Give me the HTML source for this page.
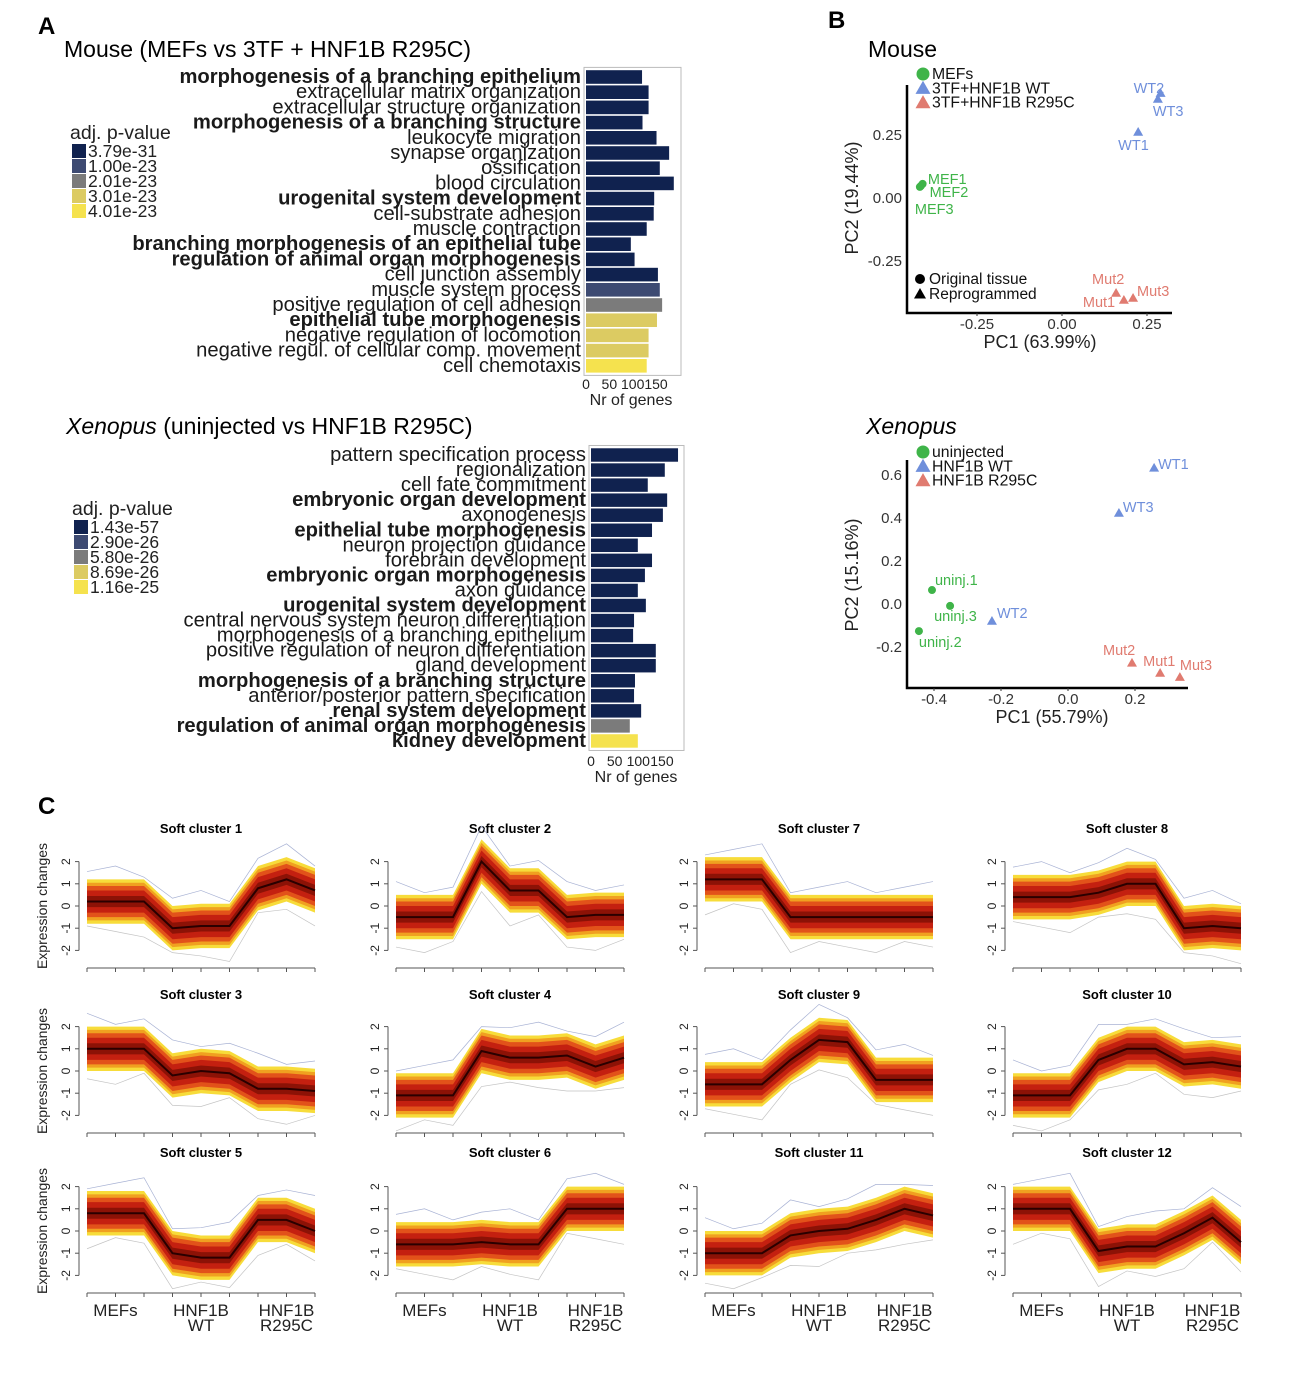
<!DOCTYPE html>
<html><head><meta charset="utf-8">
<style>
html,body{margin:0;padding:0;background:#fff;}
svg{display:block;font-family:"Liberation Sans",sans-serif;}
.nar{font-family:"Liberation Sans Narrow","Liberation Sans",sans-serif;}
</style></head>
<body>
<svg id="fig" width="1304" height="1388" viewBox="0 0 1304 1388" xmlns="http://www.w3.org/2000/svg">
<rect width="1304" height="1388" fill="#fff"/>
<text x="38" y="34" font-size="24" font-weight="bold">A</text>
<text x="828" y="28" font-size="24" font-weight="bold">B</text>
<text x="38" y="814" font-size="24" font-weight="bold">C</text>
<text x="64" y="57" font-size="23">Mouse (MEFs vs 3TF + HNF1B R295C)</text>
<text x="66" y="434" font-size="23"><tspan font-style="italic">Xenopus</tspan> (uninjected vs HNF1B R295C)</text>
<g id="barA"></g><g id="barX"></g><g id="pcaM"></g><g id="pcaX"></g><g id="clusters"></g>
</svg>
<script>
// ---------- Panel A data ----------
const mouseTerms = ["morphogenesis of a branching epithelium","extracellular matrix organization","extracellular structure organization","morphogenesis of a branching structure","leukocyte migration","synapse organization","ossification","blood circulation","urogenital system development","cell-substrate adhesion","muscle contraction","branching morphogenesis of an epithelial tube","regulation of animal organ morphogenesis","cell junction assembly","muscle system process","positive regulation of cell adhesion","epithelial tube morphogenesis","negative regulation of locomotion","negative regul. of cellular comp. movement","cell chemotaxis"];
const mouseBold = [1,0,0,1,0,0,0,0,1,0,0,1,1,0,0,0,1,0,0,0];
const mouseCounts = [120,134,134,121,151,178,158,188,146,145,130,96,104,154,158,163,152,134,134,130];
const mouseColorIdx = [0,0,0,0,0,0,0,0,0,0,0,0,0,0,1,2,3,3,3,4];
const mouseLegend = ["3.79e-31","1.00e-23","2.01e-23","3.01e-23","4.01e-23"];
const xenTerms = ["pattern specification process","regionalization","cell fate commitment","embryonic organ development","axonogenesis","epithelial tube morphogenesis","neuron projection guidance","forebrain development","embryonic organ morphogenesis","axon guidance","urogenital system development","central nervous system neuron differentiation","morphogenesis of a branching epithelium","positive regulation of neuron differentiation","gland development","morphogenesis of a branching structure","anterior/posterior pattern specification","renal system development","regulation of animal organ morphogenesis","kidney development"];
const xenBold = [0,0,0,1,0,1,0,0,1,0,1,0,0,0,0,1,0,1,1,1];
const xenCounts = [184,156,120,161,152,129,99,129,114,99,116,91,89,137,137,93,91,106,82,99];
const xenColorIdx = [0,0,0,0,0,0,0,0,0,0,0,0,0,0,0,0,0,0,2,4];
const xenLegend = ["1.43e-57","2.90e-26","5.80e-26","8.69e-26","1.16e-25"];
const barTicks = [0,50,100,150];
const palette = ["#10224f","#3d4a72","#7b7b7b","#dccb62","#f5e24e"];

// ---------- Panel B data ----------
const mouseNames = ["MEF1","MEF2","MEF3","WT2","WT3","WT1","Mut2","Mut1","Mut3"];
const mousePC1 = [-0.415,-0.41,-0.418,0.29,0.282,0.224,0.159,0.182,0.209];
const mousePC2 = [0.048,0.056,0.044,0.416,0.393,0.262,-0.377,-0.405,-0.397];
const mouseGroup = [0,0,0,1,1,1,2,2,2];
const mouseXTicks = [-0.25,0,0.25];
const mouseYTicks = [0.25,0,-0.25];
const xenNames = ["uninj.1","uninj.3","uninj.2","WT2","WT3","WT1","Mut2","Mut1","Mut3"];
const xenPC1 = [-0.406,-0.352,-0.445,-0.227,0.152,0.257,0.191,0.275,0.334];
const xenPC2 = [0.065,-0.009,-0.126,-0.079,0.423,0.633,-0.274,-0.321,-0.34];
const xenGroup = [0,0,0,1,1,1,2,2,2];
const xenXTicks = [-0.4,-0.2,0,0.2];
const xenYTicks = [0.6,0.4,0.2,0,-0.2];

// ---------- Panel C data ----------
const clusterNames = ["Soft cluster 1","Soft cluster 2","Soft cluster 7","Soft cluster 8","Soft cluster 3","Soft cluster 4","Soft cluster 9","Soft cluster 10","Soft cluster 5","Soft cluster 6","Soft cluster 11","Soft cluster 12"];
const c1 = [0.2,0.2,0.2,-1.0,-0.9,-0.9,0.8,1.2,0.7];
const c2 = [-0.5,-0.5,-0.5,2.0,0.7,0.7,-0.5,-0.4,-0.4];
const c7 = [1.2,1.2,1.2,-0.5,-0.5,-0.5,-0.5,-0.5,-0.5];
const c8 = [0.4,0.4,0.4,0.6,1.0,1.0,-1.0,-0.9,-1.0];
const c3 = [1.0,1.0,1.0,-0.2,0.0,-0.1,-0.8,-0.8,-0.9];
const c4 = [-1.1,-1.1,-1.1,0.9,0.6,0.6,0.7,0.2,0.6];
const c9 = [-0.6,-0.6,-0.6,0.5,1.4,1.3,-0.4,-0.4,-0.4];
const c10 = [-1.1,-1.1,-1.1,0.5,1.0,1.0,0.3,0.4,0.2];
const c5 = [0.8,0.8,0.8,-1.0,-1.2,-1.2,0.5,0.5,0.0];
const c6 = [-0.6,-0.6,-0.6,-0.5,-0.6,-0.6,1.0,1.0,1.0];
const c11 = [-1.0,-1.0,-1.0,-0.2,0.0,0.1,0.5,1.0,0.7];
const c12 = [1.0,1.0,1.0,-0.9,-0.7,-0.7,-0.1,0.6,-0.5];
const clusterMeans = [c1,c2,c7,c8,c3,c4,c9,c10,c5,c6,c11,c12];
const yTicksC = [2,1,0,-1,-2];

const NS="http://www.w3.org/2000/svg";
function mk(tag,attrs,parent,txt){const e=document.createElementNS(NS,tag);for(const k in attrs)e.setAttribute(k,attrs[k]);if(txt!==undefined)e.textContent=txt;parent.appendChild(e);return e;}

// ---------- Bar charts ----------
function barChart(g,terms,bold,counts,cidx,legend,cfg){
  const x=v=>cfg.x0+v*cfg.k;
  const y=i=>cfg.y0+i*cfg.pitch;
  const fr=mk('rect',{x:cfg.x0-2,y:cfg.y0-cfg.pitch/2-2,width:cfg.fw,height:terms.length*cfg.pitch+4,fill:'none',stroke:'#bbb','stroke-width':1},g);
  
  
  terms.forEach((t,i)=>{
    const r=mk('rect',{x:x(0),y:y(i)-cfg.pitch/2+0.8,width:x(counts[i])-x(0),height:cfg.pitch-1.6,fill:palette[cidx[i]]},g);
    
    
    const tx=mk('text',{x:cfg.x0-5,y:y(i)+6,'text-anchor':'end','font-size':20.2,'font-weight':bold[i]?'bold':'normal',fill:'#1a1a1a',class:'nar'},g,t);
    
    
  });
  barTicks.forEach(v=>{
    const tt=mk('text',{x:x(v),y:cfg.tickY,'text-anchor':'middle','font-size':14,class:'nar',fill:'#222'},g,String(v));
    
    
  });
  const xt=mk('text',{x:cfg.x0+45,y:cfg.tickY+16,'text-anchor':'middle','font-size':16,class:'nar',fill:'#222'},g,'Nr of genes');
  
  
  const lt=mk('text',{x:cfg.lx-2,y:cfg.ly,'font-size':19.5,class:'nar',fill:'#222'},g,'adj. p-value');
  
  
  legend.forEach((s,i)=>{
    const sw=mk('rect',{x:cfg.lx,y:cfg.ly+5+i*15,width:14,height:14,fill:palette[i]},g);
    
    
    const st=mk('text',{x:cfg.lx+16,y:cfg.ly+18+i*15,'font-size':17.5,class:'nar',fill:'#222'},g,s);
    
    
  });
}
barChart(document.getElementById('barA'),mouseTerms,mouseBold,mouseCounts,mouseColorIdx,mouseLegend,{x0:586,y0:77,pitch:15.2,k:0.467,fw:97,tickY:389,lx:72,ly:139});
barChart(document.getElementById('barX'),xenTerms,xenBold,xenCounts,xenColorIdx,xenLegend,{x0:591,y0:455,pitch:15.05,k:0.473,fw:95,tickY:766,lx:74,ly:515});

// ---------- PCA ----------
const gcol=["#3fb449","#6f8fdb","#e07b70"];
function tri(cx,cy,s){return `${cx},${cy-s} ${cx-s},${cy+s*0.75} ${cx+s},${cy+s*0.75}`;}
function pca(g,names,pc1,pc2,grp,xt,yt,cfg){
  const sx=v=>cfg.xz+v*cfg.kx, sy=v=>cfg.yz-v*cfg.ky;
  const ax=mk('path',{d:`M${cfg.ax0},${cfg.ay0} V${cfg.ay1} H${cfg.ax1}`,stroke:'#000','stroke-width':2.5,fill:'none'},g);
  
  
  xt.forEach(v=>{
    mk('line',{x1:sx(v),x2:sx(v),y1:cfg.ay1,y2:cfg.ay1+3,stroke:'#333'},g);
    const t=mk('text',{x:sx(v),y:cfg.ay1+16,'text-anchor':'middle','font-size':15,fill:'#333'},g,v===0?(cfg.dec2?'0.00':'0.0'):v.toFixed(cfg.dec2?2:1));
    
    
  });
  yt.forEach(v=>{
    const t=mk('text',{x:cfg.ax0-5,y:sy(v)+5,'text-anchor':'end','font-size':15,fill:'#333'},g,v===0?(cfg.dec2?'0.00':'0.0'):v.toFixed(cfg.dec2?2:1));
    
    
  });
  names.forEach((n,i)=>{
    const px=sx(pc1[i]),py=sy(pc2[i]);
    let m;
    if(grp[i]===0) m=mk('circle',{cx:px,cy:py,r:4,fill:gcol[0]},g);
    else m=mk('polygon',{points:tri(px,py,5),fill:gcol[grp[i]]},g);
    
    
    const l=mk('text',{x:px+cfg.off[i][0],y:py+cfg.off[i][1],'font-size':14.5,fill:gcol[grp[i]]},g,n);
    
    
  });
  const xl=mk('text',{x:cfg.xlx,y:cfg.ay1+35,'text-anchor':'middle','font-size':18,fill:'#222'},g,cfg.xlab);
  
  
  const yl=mk('text',{x:0,y:0,'text-anchor':'middle','font-size':18,fill:'#222',transform:`translate(${cfg.ylx},${cfg.yly}) rotate(-90)`},g,cfg.ylab);
  
  
  cfg.leg.forEach((s,i)=>{
    const ly=cfg.legY+i*14.3;
    let m;
    if(i===0) m=mk('circle',{cx:cfg.ax0+16,cy:ly,r:6.5,fill:gcol[0]},g);
    else m=mk('polygon',{points:tri(cfg.ax0+16,ly,7.5),fill:gcol[i]},g);
    
    
    const t=mk('text',{x:cfg.ax0+25,y:ly+5,'font-size':15.8,fill:'#111'},g,s);
    
    
  });
}
const mg=document.getElementById('pcaM');
const mt=mk('text',{x:868,y:57,'font-size':23},mg,'Mouse');


pca(mg,mouseNames,mousePC1,mousePC2,mouseGroup,mouseXTicks,mouseYTicks,{xz:1062,kx:340,yz:198,ky:252,ax0:907,ax1:1172,ay0:85,ay1:313,dec2:true,
 off:[[7,-2],[7,13],[-5,27],[-27,0],[-5,17],[-20,18],[-24,-9],[-41,7],[4,-2]],
 xlab:'PC1 (63.99%)',xlx:1040,ylab:'PC2 (19.44%)',ylx:858,yly:198,leg:['MEFs','3TF+HNF1B WT','3TF+HNF1B R295C'],legY:74});
const sh=[['Original tissue',279],['Reprogrammed',294]];
sh.forEach((s,i)=>{
  const m=i===0?mk('circle',{cx:920,cy:s[1],r:5,fill:'#000'},mg):mk('polygon',{points:tri(920,s[1],6),fill:'#000'},mg);
  
  
  const t=mk('text',{x:929,y:s[1]+5,'font-size':15.5,fill:'#111'},mg,s[0]);
  
  
});
const xg=document.getElementById('pcaX');
const xtt=mk('text',{x:866,y:434,'font-size':23,'font-style':'italic'},xg,'Xenopus');


pca(xg,xenNames,xenPC1,xenPC2,xenGroup,xenXTicks,xenYTicks,{xz:1068,kx:335,yz:604,ky:215,ax0:907,ax1:1188,ay0:460,ay1:688,dec2:false,
 off:[[3,-5],[-16,15],[0,16],[5,-3],[4,-1],[4,1],[-29,-8],[-17,-7],[0,-7]],
 xlab:'PC1 (55.79%)',xlx:1052,ylab:'PC2 (15.16%)',ylx:858,yly:575,leg:['uninjected','HNF1B WT','HNF1B R295C'],legY:452});

// ---------- Clusters ----------
const cg=document.getElementById('clusters');
const colOff=[0,309,618,926], rowZero=[906,1071,1231], rowTitle=[833,999,1157];
const bands=[[1.0,'#f7dc3a'],[0.85,'#f0a020'],[0.7,'#e2521a'],[0.5,'#c42010'],[0.25,'#8c1206']];
clusterMeans.forEach((mean,ci)=>{
  const col=ci%4,row=Math.floor(ci/4);
  const x0=87+colOff[col], step=28.5, z=rowZero[row], k=22.2;
  const sx=i=>x0+i*step, sy=v=>z-v*k;
  const g=mk('g',{},cg);
  
  
  const t=mk('text',{x:x0+114,y:rowTitle[row],'text-anchor':'middle','font-size':13,'font-weight':'bold'},g,clusterNames[ci]);
  
  
  [[-1],[1]].forEach((s,j)=>{
    const pts=mean.map((v,i)=>`${sx(i)},${sy(v+s[0]*(1.1+((i+j+ci)%3)*0.25))}`).join(' ');
    const pl=mk('polyline',{points:pts,fill:'none',stroke:j?'#a8b2d4':'#c4c4c4','stroke-width':0.7},g);
    
    
  });
  bands.forEach(([w,c])=>{
    const up=mean.map((v,i)=>`${sx(i)},${sy(v+w)}`), dn=mean.map((v,i)=>`${sx(i)},${sy(v-w)}`).reverse();
    const p=mk('polygon',{points:up.concat(dn).join(' '),fill:c},g);
    
    
  });
  const ml=mk('polyline',{points:mean.map((v,i)=>`${sx(i)},${sy(v)}`).join(' '),fill:'none',stroke:'#2a0000','stroke-width':2},g);
  
  
  mk('line',{x1:x0,x2:x0+8*step,y1:z+62,y2:z+62,stroke:'#555','stroke-width':1},g);
  for(let i=0;i<9;i++) mk('line',{x1:sx(i),x2:sx(i),y1:z+62,y2:z+66,stroke:'#555'},g);
  mk('line',{x1:x0-8,x2:x0-8,y1:sy(2),y2:sy(-2),stroke:'#555'},g);
  yTicksC.forEach(v=>{
    mk('line',{x1:x0-8,x2:x0-12,y1:sy(v),y2:sy(v),stroke:'#555'},g);
    const tl=mk('text',{x:0,y:0,'text-anchor':'middle','font-size':12,fill:'#222',transform:`translate(${x0-17},${sy(v)}) rotate(-90)`},g,String(v));
    
    
  });
  if(col===0){
    const yl=mk('text',{x:0,y:0,'text-anchor':'middle','font-size':14,fill:'#222',transform:`translate(47,${z}) rotate(-90)`},g,'Expression changes');
    
    
  }
  if(row===2){
    [['MEFs',null,1],['HNF1B','WT',4],['HNF1B','R295C',7]].forEach(([a,b,i])=>{
      const l=mk('text',{x:sx(i),y:1316,'text-anchor':'middle','font-size':17,fill:'#222'},g,a);
      
      
      if(b){const l2=mk('text',{x:sx(i),y:1331,'text-anchor':'middle','font-size':17,fill:'#222'},g,b);
        
        }
    });
  }
});
</script>
</body></html>
